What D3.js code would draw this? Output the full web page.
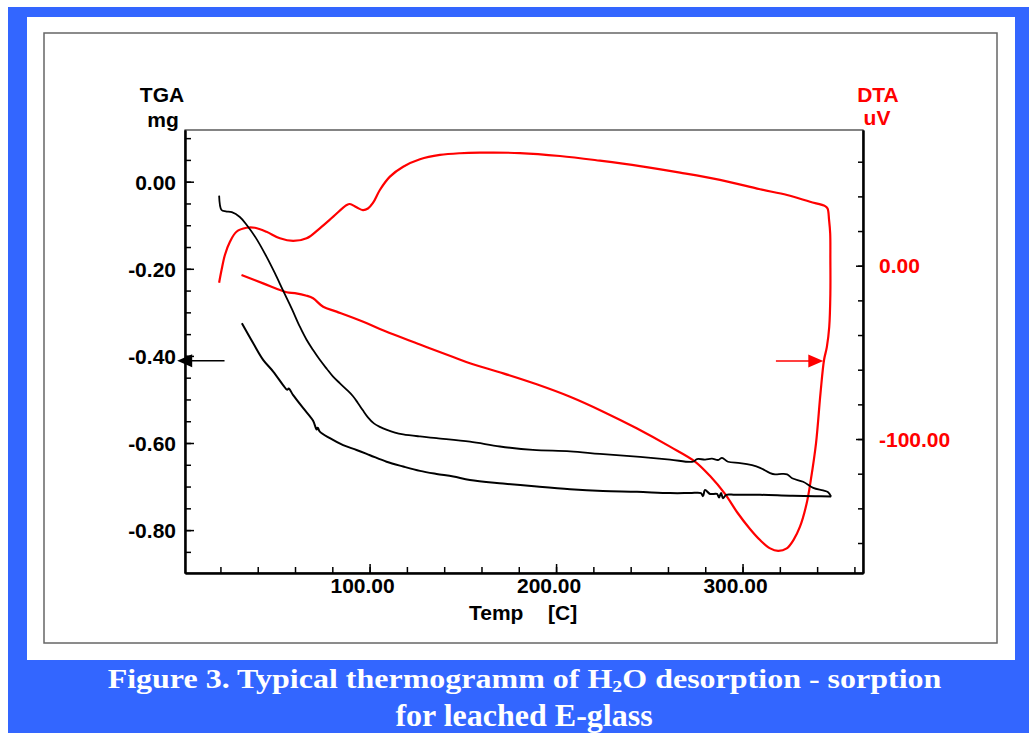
<!DOCTYPE html>
<html>
<head>
<meta charset="utf-8">
<script src="https://d3js.org/d3.v7.min.js"></script>
<style>
  body { margin: 0; background: #fff; }
  svg { display: block; }
  .lab { font-family: "Liberation Sans", Arial, sans-serif; font-weight: bold; font-size: 21px; }
  .cap { font-family: "Liberation Serif", "Times New Roman", serif; font-weight: bold; font-size: 32px; fill: #fff; }
</style>
</head>
<body>
<div id="chart"></div>
<script>
// temperature [C] vs TGA [mg], heating run
const tgaHeating = [
  [19.3,-0.032],[20.6,-0.065],[22.9,-0.068],[26.1,-0.070],[30.4,-0.081],[34.0,-0.099],[39.0,-0.129],
  [44.7,-0.172],[49.2,-0.210],[53.5,-0.249],[58.3,-0.292],[62.6,-0.333],[66.2,-0.363],[69.6,-0.386],
  [73.3,-0.409],[77.1,-0.430],[80.3,-0.447],[84.1,-0.463],[87.8,-0.478],[91.0,-0.492],[93.7,-0.508],
  [96.4,-0.525],[99.1,-0.541],[102.3,-0.555],[105.5,-0.563],[109.3,-0.570],[113.6,-0.576],[118.0,-0.580],
  [127.0,-0.585],[135.9,-0.589],[153.8,-0.597],[169.9,-0.608],[187.6,-0.616],[207.5,-0.619],[223.5,-0.625],
  [245.0,-0.632],[261.1,-0.638],[273.4,-0.643],[275.6,-0.637],[279.9,-0.638],[283.6,-0.636],[286.9,-0.639],
  [289.0,-0.634],[292.2,-0.643],[298.7,-0.646],[305.1,-0.651],[309.4,-0.657],[314.8,-0.669],[317.4,-0.672],
  [321.2,-0.671],[323.9,-0.672],[326.6,-0.681],[332.5,-0.689],[337.9,-0.703],[343.2,-0.709],[345.9,-0.713],
  [347.5,-0.723]
];

// TGA cooling run (from the hot end back down)
const tgaCooling = [
  [347.5,-0.723],[338.9,-0.722],[325.5,-0.721],[309.4,-0.719],[296.0,-0.719],[291.2,-0.719],[289.5,-0.727],
  [288.5,-0.715],[287.4,-0.725],[286.3,-0.717],[282.6,-0.717],[279.9,-0.708],[278.8,-0.722],[277.7,-0.715],
  [271.8,-0.715],[261.1,-0.715],[243.4,-0.712],[225.1,-0.710],[207.5,-0.706],[189.7,-0.700],[171.5,-0.693],
  [153.8,-0.685],[144.9,-0.677],[135.9,-0.671],[127.0,-0.664],[118.0,-0.654],[109.1,-0.643],[100.2,-0.628],
  [93.0,-0.616],[85.8,-0.605],[78.7,-0.589],[73.3,-0.574],[72.2,-0.565],[71.6,-0.569],[69.7,-0.549],
  [64.4,-0.520],[59.0,-0.490],[56.6,-0.475],[55.8,-0.478],[53.6,-0.467],[48.3,-0.436],[42.9,-0.409],
  [37.6,-0.371],[31.5,-0.325]
];

// DTA [uV], one continuous loop: heating, hold, cooling
const dtaLoop = [
  [19.3,-9.8],[20.6,-2.5],[22.4,6.2],[25.1,13.8],[28.6,19.6],[34.0,21.9],[38.5,21.9],[44.7,19.6],
  [51.9,15.8],[59.0,14.3],[66.2,15.8],[73.3,21.6],[80.5,28.3],[87.7,35.0],[89.4,35.6],[93.0,33.7],
  [96.4,32.1],[99.1,33.0],[101.8,36.2],[105.5,43.7],[110.9,51.4],[118.0,57.1],[127.0,61.4],[137.7,63.9],
  [148.4,64.9],[159.1,65.2],[180.6,65.0],[202.1,63.3],[223.5,60.6],[245.0,57.5],[266.5,53.7],[287.9,49.5],
  [309.4,44.1],[323.9,40.8],[336.2,36.9],[344.3,34.4],[345.6,33.0],[346.4,26.4],[347.0,18.7],[347.1,3.3],
  [347.1,-15.9],[346.5,-35.2],[345.2,-47.0],[343.7,-54.4],[341.8,-73.6],[339.4,-102.5],
  [336.6,-123.7],[334.4,-137.1],[330.8,-150.6],[327.3,-158.3],[323.7,-163.1],[319.1,-164.5],[314.8,-163.1],
  [309.4,-158.3],[304.0,-151.9],[297.0,-142.1],[290.6,-131.7],[282.6,-121.4],[274.5,-113.0],[261.1,-104.4],
  [243.2,-93.8],[225.3,-84.2],[207.5,-75.6],[189.6,-68.4],[171.7,-62.1],[153.8,-56.3],[144.8,-52.7],
  [127.0,-45.5],[105.5,-36.5],[96.6,-32.3],[82.3,-26.5],[75.1,-23.7],[69.7,-18.8],[66.2,-17.3],
  [59.9,-15.8],[55.5,-15.3],[42.9,-10.2],[31.3,-5.4]
];

const tempTicks = [100, 200, 300];
const tgaTicks = [0, -0.2, -0.4, -0.6, -0.8];
const dtaTicks = [0, -100];

// arrows showing which axis belongs to which curve: [tStart, tEnd, value]
const tgaArrow = [22.2, -3.2, -0.411];
const dtaArrow = [317.9, 343.3, -55.0];

const W = 1029, H = 733;
const plot = {left: 185, right: 863, top: 130, bottom: 573};

const svg = d3.select("#chart").append("svg")
  .attr("width", W).attr("height", H);

// blue page frame + caption band
svg.append("rect").attr("x", 8).attr("y", 7).attr("width", W - 8).attr("height", H - 7).attr("fill", "#3366ff");
svg.append("rect").attr("x", 27).attr("y", 17).attr("width", 988).attr("height", 643).attr("fill", "#fff");
svg.append("rect").attr("x", 44).attr("y", 33).attr("width", 953).attr("height", 610)
  .attr("fill", "none").attr("stroke", "#666").attr("stroke-width", 1.5);

const x = d3.scaleLinear().domain([1, 364.6]).range([plot.left, plot.right]);
const yTga = d3.scaleLinear().domain([0.1187, -0.8985]).range([plot.top, plot.bottom]);
const yDta = d3.scaleLinear().domain([78.3, -177.3]).range([plot.top, plot.bottom]);

// plot box
svg.append("rect").attr("x", plot.left).attr("y", plot.top)
  .attr("width", plot.right - plot.left).attr("height", plot.bottom - plot.top)
  .attr("fill", "none").attr("stroke", "#333").attr("stroke-width", 1.2);

function styleAxis(g) {
  g.select(".domain").attr("stroke", "#000").attr("stroke-width", 2);
  g.selectAll(".tick line").attr("stroke", "#000").attr("stroke-width", 1.5);
}

// minor + major ticks, pointing into the plot
const minorT = d3.range(20, 361, 20);
const minorTga = d3.range(-17, 3).map(i => +(i * 0.05).toFixed(2));
const minorDta = d3.range(-8, 4).map(i => i * 20);

svg.append("g").attr("transform", `translate(0,${plot.bottom})`)
  .call(d3.axisBottom(x).tickValues(minorT).tickSizeInner(-6).tickSizeOuter(0).tickFormat(""))
  .call(styleAxis);
svg.append("g").attr("transform", `translate(0,${plot.bottom})`)
  .call(d3.axisBottom(x).tickValues(tempTicks).tickSizeInner(-9).tickSizeOuter(0).tickFormat(""))
  .call(styleAxis);

svg.append("g").attr("transform", `translate(${plot.left},0)`)
  .call(d3.axisLeft(yTga).tickValues(minorTga).tickSizeInner(-6).tickSizeOuter(0).tickFormat(""))
  .call(styleAxis);
svg.append("g").attr("transform", `translate(${plot.left},0)`)
  .call(d3.axisLeft(yTga).tickValues(tgaTicks).tickSizeInner(-9).tickSizeOuter(0).tickFormat(""))
  .call(styleAxis);

svg.append("g").attr("transform", `translate(${plot.right},0)`)
  .call(d3.axisRight(yDta).tickValues(minorDta).tickSizeInner(-5).tickSizeOuter(0).tickFormat(""))
  .call(styleAxis);
svg.append("g").attr("transform", `translate(${plot.right},0)`)
  .call(d3.axisRight(yDta).tickValues(dtaTicks).tickSizeInner(-7).tickSizeOuter(0).tickFormat(""))
  .call(styleAxis);

// tick labels
svg.append("g").selectAll("text").data(tgaTicks).enter().append("text")
  .attr("class", "lab").attr("text-anchor", "end")
  .attr("x", plot.left - 9).attr("y", d => yTga(d) + 8)
  .text(d => d.toFixed(2));

svg.append("g").selectAll("text").data(dtaTicks).enter().append("text")
  .attr("class", "lab").attr("fill", "#ff0000")
  .attr("x", plot.right + 16).attr("y", d => yDta(d) + 7.5)
  .text(d => d.toFixed(2));

svg.append("g").selectAll("text").data(tempTicks).enter().append("text")
  .attr("class", "lab").attr("text-anchor", "middle")
  .attr("x", d => x(d) - 7).attr("y", plot.bottom + 20)
  .text(d => d.toFixed(2));

// axis titles
svg.append("text").attr("class", "lab").attr("text-anchor", "middle").attr("x", 162).attr("y", 102).text("TGA");
svg.append("text").attr("class", "lab").attr("text-anchor", "middle").attr("x", 163).attr("y", 127).text("mg");
svg.append("text").attr("class", "lab").attr("fill", "#ff0000").attr("text-anchor", "middle").attr("x", 878).attr("y", 102).text("DTA");
svg.append("text").attr("class", "lab").attr("fill", "#ff0000").attr("text-anchor", "middle").attr("x", 877).attr("y", 125).text("uV");
const tt = svg.append("text").attr("class", "lab").attr("y", 620);
tt.append("tspan").attr("x", 469).text("Temp");
tt.append("tspan").attr("x", 548).text("[C]");

// curves
const lineTga = d3.line().x(d => x(d[0])).y(d => yTga(d[1])).curve(d3.curveCatmullRom.alpha(0.5));
const lineDta = d3.line().x(d => x(d[0])).y(d => yDta(d[1])).curve(d3.curveCatmullRom.alpha(0.5));

svg.append("path").datum(dtaLoop).attr("d", lineDta)
  .attr("fill", "none").attr("stroke", "#ff0000").attr("stroke-width", 2.2).attr("stroke-linejoin", "round");
svg.append("path").datum(tgaHeating).attr("d", lineTga)
  .attr("fill", "none").attr("stroke", "#000").attr("stroke-width", 1.8).attr("stroke-linejoin", "round");
svg.append("path").datum(tgaCooling).attr("d", lineTga)
  .attr("fill", "none").attr("stroke", "#000").attr("stroke-width", 2).attr("stroke-linejoin", "round");

// arrows
function arrow(t0, t1, yPix, color) {
  const x0 = x(t0), x1 = x(t1);
  const dir = Math.sign(x1 - x0);
  svg.append("line").attr("x1", x0).attr("x2", x1 - dir * 10).attr("y1", yPix).attr("y2", yPix)
    .attr("stroke", color).attr("stroke-width", 1.5);
  svg.append("path")
    .attr("d", `M${x1},${yPix} L${x1 - dir * 15},${yPix - 6.5} L${x1 - dir * 15},${yPix + 6.5} Z`)
    .attr("fill", color);
}
arrow(tgaArrow[0], tgaArrow[1], yTga(tgaArrow[2]), "#000");
arrow(dtaArrow[0], dtaArrow[1], yDta(dtaArrow[2]), "#ff0000");

// caption
const c1 = svg.append("text").attr("class", "cap").attr("text-anchor", "middle")
  .attr("transform", "translate(524.5,688) scale(1,0.85)");
c1.append("tspan").text("Figure 3. Typical thermogramm of H");
c1.append("tspan").attr("font-size", "20px").attr("dy", 5).text("2");
c1.append("tspan").attr("dy", -5).text("O desorption - sorption");
svg.append("text").attr("class", "cap").attr("text-anchor", "middle")
  .attr("x", 524).attr("y", 726).text("for leached E-glass");
</script>
</body>
</html>
